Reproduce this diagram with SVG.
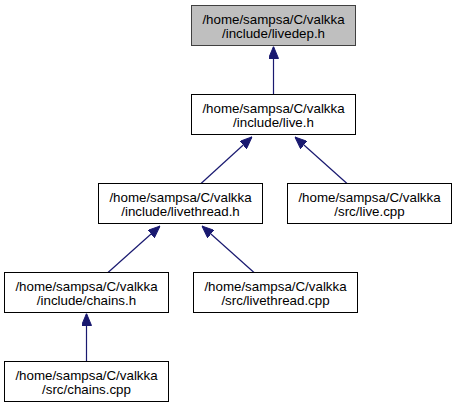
<svg xmlns="http://www.w3.org/2000/svg" width="456" height="409" viewBox="0 0 456 409">
<style>
.box{fill:#ffffff;stroke:#000000;stroke-width:1}
.cur{fill:#bfbfbf;stroke:#404040;stroke-width:1}
text{font-family:"Liberation Sans",Arial,sans-serif;font-size:13.33px;fill:#000000;text-anchor:middle}
.edge{stroke:#191970;stroke-width:1.2;fill:none}
</style>
<defs>
<marker id="ah" viewBox="0 0 12 10" refX="12" refY="5" markerWidth="12" markerHeight="10" markerUnits="userSpaceOnUse" orient="auto">
<path d="M0,0 L12,5 L0,10 Z" fill="#191970" stroke="#191970" stroke-width="1"/>
</marker>
</defs>
<g id="connectors">
<path class="edge" d="M273.5,94.5 L273.5,46.5" marker-end="url(#ah)"/>
<path class="edge" d="M201,183.5 L252,137" marker-end="url(#ah)"/>
<path class="edge" d="M347,183.5 L295,137" marker-end="url(#ah)"/>
<path class="edge" d="M108,272.5 L160,226" marker-end="url(#ah)"/>
<path class="edge" d="M254,272.5 L202,226" marker-end="url(#ah)"/>
<path class="edge" d="M86.5,361.5 L86.5,313.5" marker-end="url(#ah)"/>
</g>
<g id="node_livedep">
<rect class="cur" x="191.5" y="5.5" width="164" height="40"/>
<text x="273.5" y="24">/home/sampsa/C/valkka</text>
<text x="273.5" y="37.5">/include/livedep.h</text>
</g>
<g id="node_live_h">
<rect class="box" x="191.5" y="94.5" width="164" height="40"/>
<text x="273.5" y="113">/home/sampsa/C/valkka</text>
<text x="273.5" y="126.5">/include/live.h</text>
</g>
<g id="node_livethread_h">
<rect class="box" x="98.5" y="183.5" width="164" height="40"/>
<text x="180.5" y="202">/home/sampsa/C/valkka</text>
<text x="180.5" y="215.5">/include/livethread.h</text>
</g>
<g id="node_live_cpp">
<rect class="box" x="287.5" y="183.5" width="164" height="40"/>
<text x="369.5" y="202">/home/sampsa/C/valkka</text>
<text x="369.5" y="215.5">/src/live.cpp</text>
</g>
<g id="node_chains_h">
<rect class="box" x="4.5" y="272.5" width="164" height="40"/>
<text x="86.5" y="291">/home/sampsa/C/valkka</text>
<text x="86.5" y="304.5">/include/chains.h</text>
</g>
<g id="node_livethread_cpp">
<rect class="box" x="193.5" y="272.5" width="164" height="40"/>
<text x="275.5" y="291">/home/sampsa/C/valkka</text>
<text x="275.5" y="304.5">/src/livethread.cpp</text>
</g>
<g id="node_chains_cpp">
<rect class="box" x="4.5" y="361.5" width="164" height="40"/>
<text x="86.5" y="380">/home/sampsa/C/valkka</text>
<text x="86.5" y="393.5">/src/chains.cpp</text>
</g>
</svg>
